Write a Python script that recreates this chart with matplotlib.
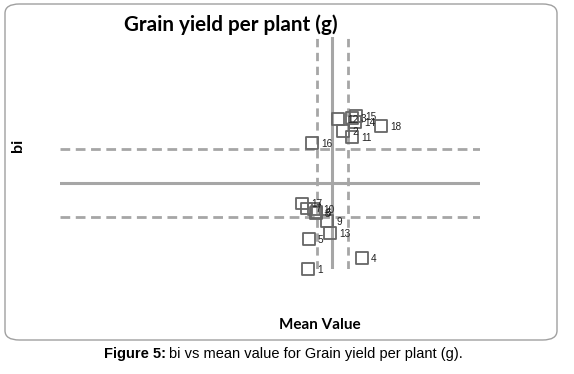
import matplotlib
matplotlib.use("Agg")
import matplotlib.pyplot as plt
from matplotlib.patches import FancyBboxPatch
import numpy as np

# Data: genotype number, mean value, regression coefficient (bi)
genotypes = [str(i) for i in range(1, 19)]
mean_value = [24.8, 28.3, 29.2, 30.2, 24.9, 25.65, 24.65, 25.6, 26.7, 25.4,
              29.2, 27.8, 27.0, 29.5, 29.6, 25.2, 24.2, 32.1]
bi_value = [0.14, 1.52, 1.65, 0.25, 0.44, 0.71, 0.745, 0.70, 0.62, 0.74,
            1.46, 1.64, 0.50, 1.61, 1.67, 1.40, 0.795, 1.57]
bi_ref = 1.0
bi_se = 0.34
mean_se = 1.53

W, H = 574, 374
fig = plt.figure(figsize=(W / 100, H / 100), dpi=100)

# rounded frame
frame = FancyBboxPatch((5 / W, 1 - 340 / H), 552 / W, 336 / H,
                       boxstyle="round,pad=0,rounding_size=0.025",
                       transform=fig.transFigure, fill=False,
                       edgecolor="#a0a0a0", linewidth=1.0)
fig.patches.append(frame)

ax = fig.add_axes([60 / W, 1 - 269 / H, 420 / W, 232 / H])
ax.set_xlim(0, 42)
ax.set_ylim(0.14, 2.46)
ax.axis("off")

grand_mean = float(np.mean(mean_value))
line_col = "#a6a6a6"
ax.axvline(grand_mean, color=line_col, lw=2.2, zorder=1)
ax.axvline(grand_mean - mean_se, color=line_col, lw=2.0, ls=(0, (3, 2)), zorder=1)
ax.axvline(grand_mean + mean_se, color=line_col, lw=2.0, ls=(0, (3, 2)), zorder=1)
ax.axhline(bi_ref, color=line_col, lw=2.2, zorder=1)
ax.axhline(bi_ref + bi_se, color=line_col, lw=2.0, ls=(0, (3.5, 2)), zorder=1)
ax.axhline(bi_ref - bi_se, color=line_col, lw=2.0, ls=(0, (3.5, 2)), zorder=1)

ax.scatter(mean_value, bi_value, marker="s", s=66, facecolors="none",
           edgecolors="#666666", linewidths=1.3, zorder=3, clip_on=False)
for g, x, y in zip(genotypes, mean_value, bi_value):
    ax.annotate(g, (x, y), xytext=(6.5, -0.5), textcoords="offset points",
                fontsize=7.2, family="Liberation Sans", va="center", ha="left",
                color="#222222", zorder=4)

fig.text(231 / W, 1 - 25 / H, "Grain yield per plant (g)", fontsize=14.9,
         fontweight="bold", family="Lato", ha="center", va="center")
fig.text(320 / W, 1 - 325 / H, "Mean Value", fontsize=11.0, fontweight="bold",
         family="Lato", ha="center", va="center")
fig.text(18 / W, 1 - 145 / H, "bi", fontsize=11.5, fontweight="bold",
         family="Lato", ha="center", va="center", rotation=90)

# caption
t1 = fig.text(104 / W, 1 - 354 / H, "Figure 5:", fontsize=10.5, fontweight="bold",
              family="Liberation Sans", ha="left", va="center")
fig.canvas.draw()
bb = t1.get_window_extent()
fig.text(bb.x1 / W + 3 / W, 1 - 354 / H, "bi vs mean value for Grain yield per plant (g).",
         fontsize=10.5, family="Liberation Sans", ha="left", va="center")

fig.savefig("out.png", dpi=100)
